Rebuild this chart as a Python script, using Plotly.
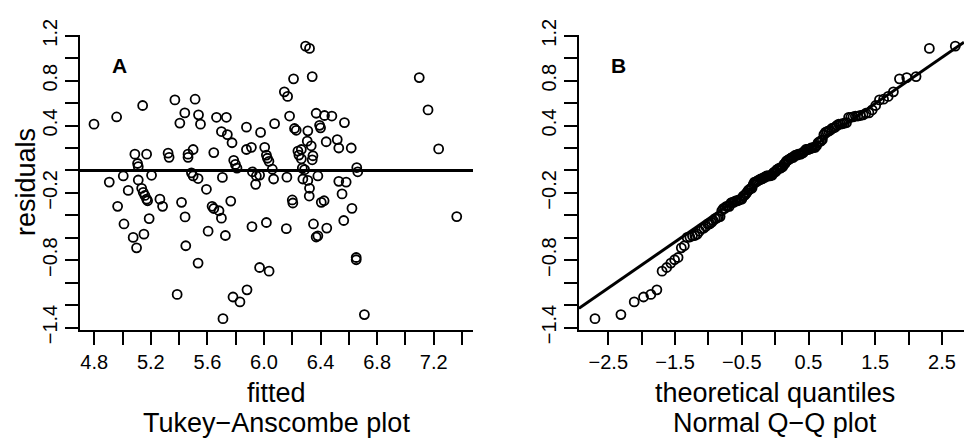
import plotly.graph_objects as go
import numpy as np
from statistics import NormalDist

# ---- data (Tukey-Anscombe: fitted vs residuals) ----
fitted = [
    4.958, 5.142, 5.370, 5.513, 5.440, 5.537, 5.664, 5.734,
    6.294, 6.322, 6.341, 6.209, 6.144, 6.167, 7.098, 7.160, 6.181, 6.369, 6.428, 6.480,
    4.798, 5.405, 5.551, 5.876, 5.976, 6.075, 5.699, 5.741, 5.774, 5.876, 5.911, 6.005,
    5.087, 5.170, 5.322, 5.329, 5.463, 5.463, 5.499, 5.645, 5.786, 5.798, 5.809, 6.017,
    6.024, 6.035, 5.106, 5.111, 6.059, 5.005, 4.906, 5.111, 5.205, 5.487, 5.499, 5.534,
    5.706, 5.918, 5.946, 5.969, 6.068, 5.941, 5.040, 5.135, 5.146, 5.158, 5.170, 5.177,
    5.264, 5.593, 5.417, 4.965, 5.283, 5.633, 5.645, 5.682, 5.765, 5.188, 5.442, 5.699,
    6.216, 6.228, 6.310, 6.393, 6.400, 6.569, 6.306, 6.334, 6.440, 6.518, 6.529, 6.617,
    7.235, 6.240, 6.264, 6.247, 6.264, 6.346, 6.341, 6.271, 6.287, 6.656, 6.663, 6.162,
    6.275, 6.310, 6.381, 6.529, 6.581, 6.322, 6.320, 6.552, 6.200, 6.204, 6.405, 6.425,
    6.622, 7.363,
    5.010, 5.075, 5.151, 5.099, 5.447, 5.605, 5.727, 5.534, 5.386, 5.710, 5.781, 5.830,
    5.880, 5.969, 5.915, 6.017, 6.036,
    6.158, 6.350, 6.444, 6.564, 6.369, 6.381, 6.652, 6.652, 6.710,
]
residuals = [
    0.477, 0.579, 0.629, 0.635, 0.513, 0.496, 0.474, 0.474,
    1.108, 1.088, 0.837, 0.817, 0.701, 0.660, 0.828, 0.540, 0.485, 0.510, 0.490, 0.485,
    0.413, 0.422, 0.413, 0.386, 0.339, 0.417, 0.347, 0.320, 0.247, 0.187, 0.206, 0.206,
    0.145, 0.145, 0.154, 0.117, 0.145, 0.117, 0.187, 0.159, 0.090, 0.054, 0.021, 0.137,
    0.109, 0.081, 0.062, 0.034, 0.011, -0.049, -0.104, -0.085, -0.043, -0.021, -0.049, -0.072,
    -0.062, -0.012, -0.049, -0.041, -0.076, -0.124, -0.178, -0.159, -0.195, -0.223, -0.256, -0.270,
    -0.256, -0.168, -0.284, -0.320, -0.320, -0.320, -0.339, -0.359, -0.273, -0.429, -0.414, -0.425,
    0.374, 0.358, 0.353, 0.402, 0.380, 0.427, 0.261, 0.220, 0.256, 0.275, 0.200, 0.200,
    0.192, 0.173, 0.187, 0.137, 0.104, 0.131, 0.095, 0.021, 0.007, 0.026, -0.012, -0.060,
    -0.076, -0.089, -0.049, -0.097, -0.104, -0.159, -0.228, -0.209, -0.263, -0.290, -0.284, -0.270,
    -0.338, -0.411,
    -0.477, -0.597, -0.568, -0.690, -0.671, -0.541, -0.580, -0.826, -1.105, -1.321, -1.128, -1.172,
    -1.064, -0.865, -0.500, -0.464, -0.898,
    -0.519, -0.477, -0.514, -0.446, -0.593, -0.583, -0.776, -0.796, -1.285,
]

# ---- axis ticks / labels ----
x1_tickvals = [4.8, 5.0, 5.2, 5.4, 5.6, 5.8, 6.0, 6.2, 6.4, 6.6, 6.8, 7.0, 7.2, 7.4]
x1_ticktext = ["4.8", "", "5.2", "", "5.6", "", "6.0", "", "6.4", "", "6.8", "", "7.2", ""]
y_tickvals = [1.2, 1.0, 0.8, 0.6, 0.4, 0.2, 0.0, -0.2, -0.4, -0.6, -0.8, -1.0, -1.2, -1.4]
y_ticktext = ["1.2", "", "0.8", "", "0.4", "", "", "\u22120.2", "", "", "\u22120.8", "", "", "\u22121.4"]
x2_tickvals = [-2.5, -2.0, -1.5, -1.0, -0.5, 0.0, 0.5, 1.0, 1.5, 2.0, 2.5]
x2_ticktext = ["\u22122.5", "", "\u22121.5", "", "\u22120.5", "", "0.5", "", "1.5", "", "2.5"]

x1_range = [4.699, 7.478]
x2_range = [-2.939, 2.83]
y_range = [-1.418, 1.211]

# ---- normal QQ (as qqnorm / qqline) ----
nd = NormalDist()
n = len(residuals)
sorted_res = sorted(residuals)
theo = [nd.inv_cdf((i + 0.5) / n) for i in range(n)]
q1, q3 = np.quantile(residuals, [0.25, 0.75])
z1, z3 = nd.inv_cdf(0.25), nd.inv_cdf(0.75)
slope = (q3 - q1) / (z3 - z1)
icpt = q1 - slope * z1

W, H = 964, 445
FONT = "Liberation Sans, Arial, Helvetica, sans-serif"

fig = go.Figure()
mk = dict(symbol="circle-open", size=9, color="black", line=dict(width=1.8, color="black"))
fig.add_trace(go.Scatter(x=fitted, y=residuals, mode="markers", marker=mk,
                         xaxis="x", yaxis="y", showlegend=False, hoverinfo="skip"))
fig.add_trace(go.Scatter(x=theo, y=sorted_res, mode="markers", marker=mk,
                         xaxis="x2", yaxis="y2", showlegend=False, hoverinfo="skip"))

fig.add_shape(type="line", xref="x domain", yref="y", x0=0, x1=1, y0=0, y1=0,
              line=dict(color="black", width=3))
fig.add_shape(type="line", xref="x2", yref="y2",
              x0=x2_range[0], x1=x2_range[1],
              y0=icpt + slope * x2_range[0], y1=icpt + slope * x2_range[1],
              line=dict(color="black", width=3))

ax = dict(showline=True, linecolor="black", linewidth=2, ticks="outside", ticklen=13,
          tickwidth=2, tickcolor="black", showgrid=False, zeroline=False, mirror=False,
          tickfont=dict(size=20, color="black", family=FONT), tickmode="array")
ydom = [(H - 337) / H, (H - 20) / H]

fig.update_layout(
    width=W, height=H, margin=dict(l=0, r=0, t=0, b=0),
    paper_bgcolor="white", plot_bgcolor="white", showlegend=False,
    font=dict(family=FONT, color="black"),
    xaxis=dict(ax, domain=[80 / W, 473 / W], range=x1_range, tickvals=x1_tickvals,
               ticktext=x1_ticktext, anchor="y"),
    yaxis=dict(ax, domain=ydom, range=y_range, tickvals=y_tickvals, ticktext=y_ticktext,
               tickangle=-90, anchor="x"),
    xaxis2=dict(ax, domain=[579 / W, 1.0], range=x2_range, tickvals=x2_tickvals,
                ticktext=x2_ticktext, anchor="y2"),
    yaxis2=dict(ax, domain=ydom, range=y_range, tickvals=y_tickvals, ticktext=y_ticktext,
                tickangle=-90, anchor="x2"),
)

def ann(text, px, py, size=27, angle=0, bold=False):
    fig.add_annotation(text=f"<b>{text}</b>" if bold else text,
                       xref="paper", yref="paper", x=px / W, y=1 - py / H,
                       xanchor="center", yanchor="middle", showarrow=False,
                       textangle=angle, font=dict(size=size, color="black", family=FONT))

ann("residuals", 26, 178.5, angle=-90)
ann("fitted", 276.5, 405)
ann("Tukey\u2212Anscombe plot", 276.5, 437.5)
ann("theoretical quantiles", 775, 405)
ann("Normal Q\u2212Q plot", 775, 437.5)
ann("A", 119, 53.5, size=21, bold=True)
ann("B", 618, 53.5, size=21, bold=True)

fig.write_html("out.html")
